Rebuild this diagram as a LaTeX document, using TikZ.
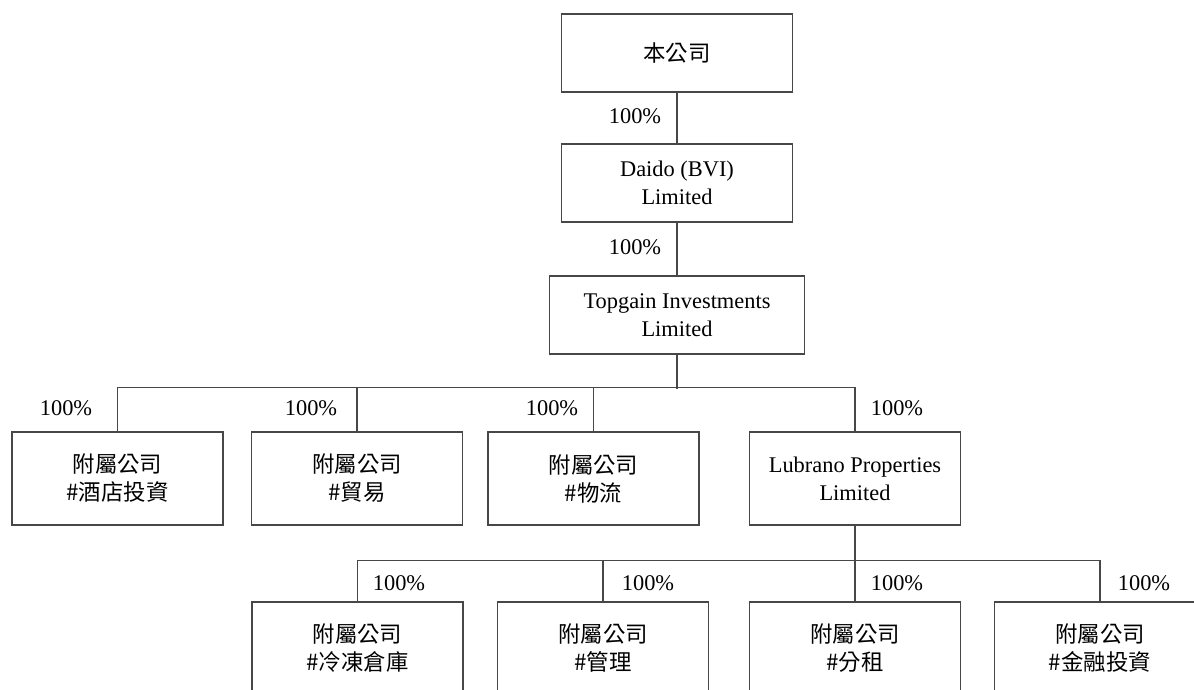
\documentclass[tikz,border=0pt]{standalone}
\usepackage{fontspec}
\setmainfont{Liberation Serif}
\newfontfamily\cjk{Noto Sans CJK TC}
\begin{document}
\begin{tikzpicture}[x=0.5pt,y=-0.5pt,
  every node/.style={font=\fontsize{11.2}{14}\selectfont},
  orgbox/.style={draw=black!72, line width=0.7pt, inner sep=0pt, align=center, minimum height=39pt},
  subbox/.style={orgbox, minimum width=105.5pt, minimum height=46.5pt},
  link/.style={draw=black!72, line width=0.7pt},
  pct/.style={inner sep=0pt}]
\useasboundingbox (0,0) rectangle (1194,690);
\clip (0,0) rectangle (1194,690);
% top chain
\node[orgbox, minimum width=115.5pt] (top) at (677,53) {\cjk 本公司};
\node[orgbox, minimum width=115.5pt] (daido) at (677,183) {Daido (BVI)\\Limited};
\node[orgbox, minimum width=127.5pt] (topgain) at (677,315) {Topgain Investments\\Limited};
% second row
\node[subbox] (s1) at (117.5,478.5) {\cjk 附屬公司\\\cjk \#酒店投資};
\node[subbox] (s2) at (357,478.5) {\cjk 附屬公司\\\cjk \#貿易};
\node[subbox] (s3) at (593.5,478.5) {\cjk 附屬公司\\\cjk \#物流};
\node[subbox] (lub) at (855,478.5) {Lubrano Properties\\Limited};
% third row
\node[subbox] (t1) at (357.5,648.5) {\cjk 附屬公司\\\cjk \#冷凍倉庫};
\node[subbox] (t2) at (603,648.5) {\cjk 附屬公司\\\cjk \#管理};
\node[subbox] (t3) at (855,648.5) {\cjk 附屬公司\\\cjk \#分租};
\node[subbox] (t4) at (1100,648.5) {\cjk 附屬公司\\\cjk \#金融投資};
% connectors
\draw[link] (top.south) -- (daido.north);
\draw[link] (daido.south) -- (topgain.north);
\draw[link] (topgain.south) -- ++(0,34);
\draw[link] (s1.north) -- ++(0,-44) -| (lub.north);
\draw[link] (s2.north) -- ++(0,-44);
\draw[link] (s3.north) -- ++(0,-44);
\draw[link] (lub.south) -- (t3.north);
\draw[link] (t1.north) -- ++(0,-41) -| (t4.north);
\draw[link] (t2.north) -- ++(0,-41);
\node[pct] (p1) at (635,116) {100\%};
\node[pct] (p2) at (635,247) {100\%};
\node[pct] (p3) at (66,408) {100\%};
\node[pct] (p4) at (311,408) {100\%};
\node[pct] (p5) at (552,408) {100\%};
\node[pct] (p6) at (897,408) {100\%};
\node[pct] (p7) at (399,583) {100\%};
\node[pct] (p8) at (648,583) {100\%};
\node[pct] (p9) at (897,583) {100\%};
\node[pct] (p10) at (1144,583) {100\%};
\end{tikzpicture}
\end{document}
